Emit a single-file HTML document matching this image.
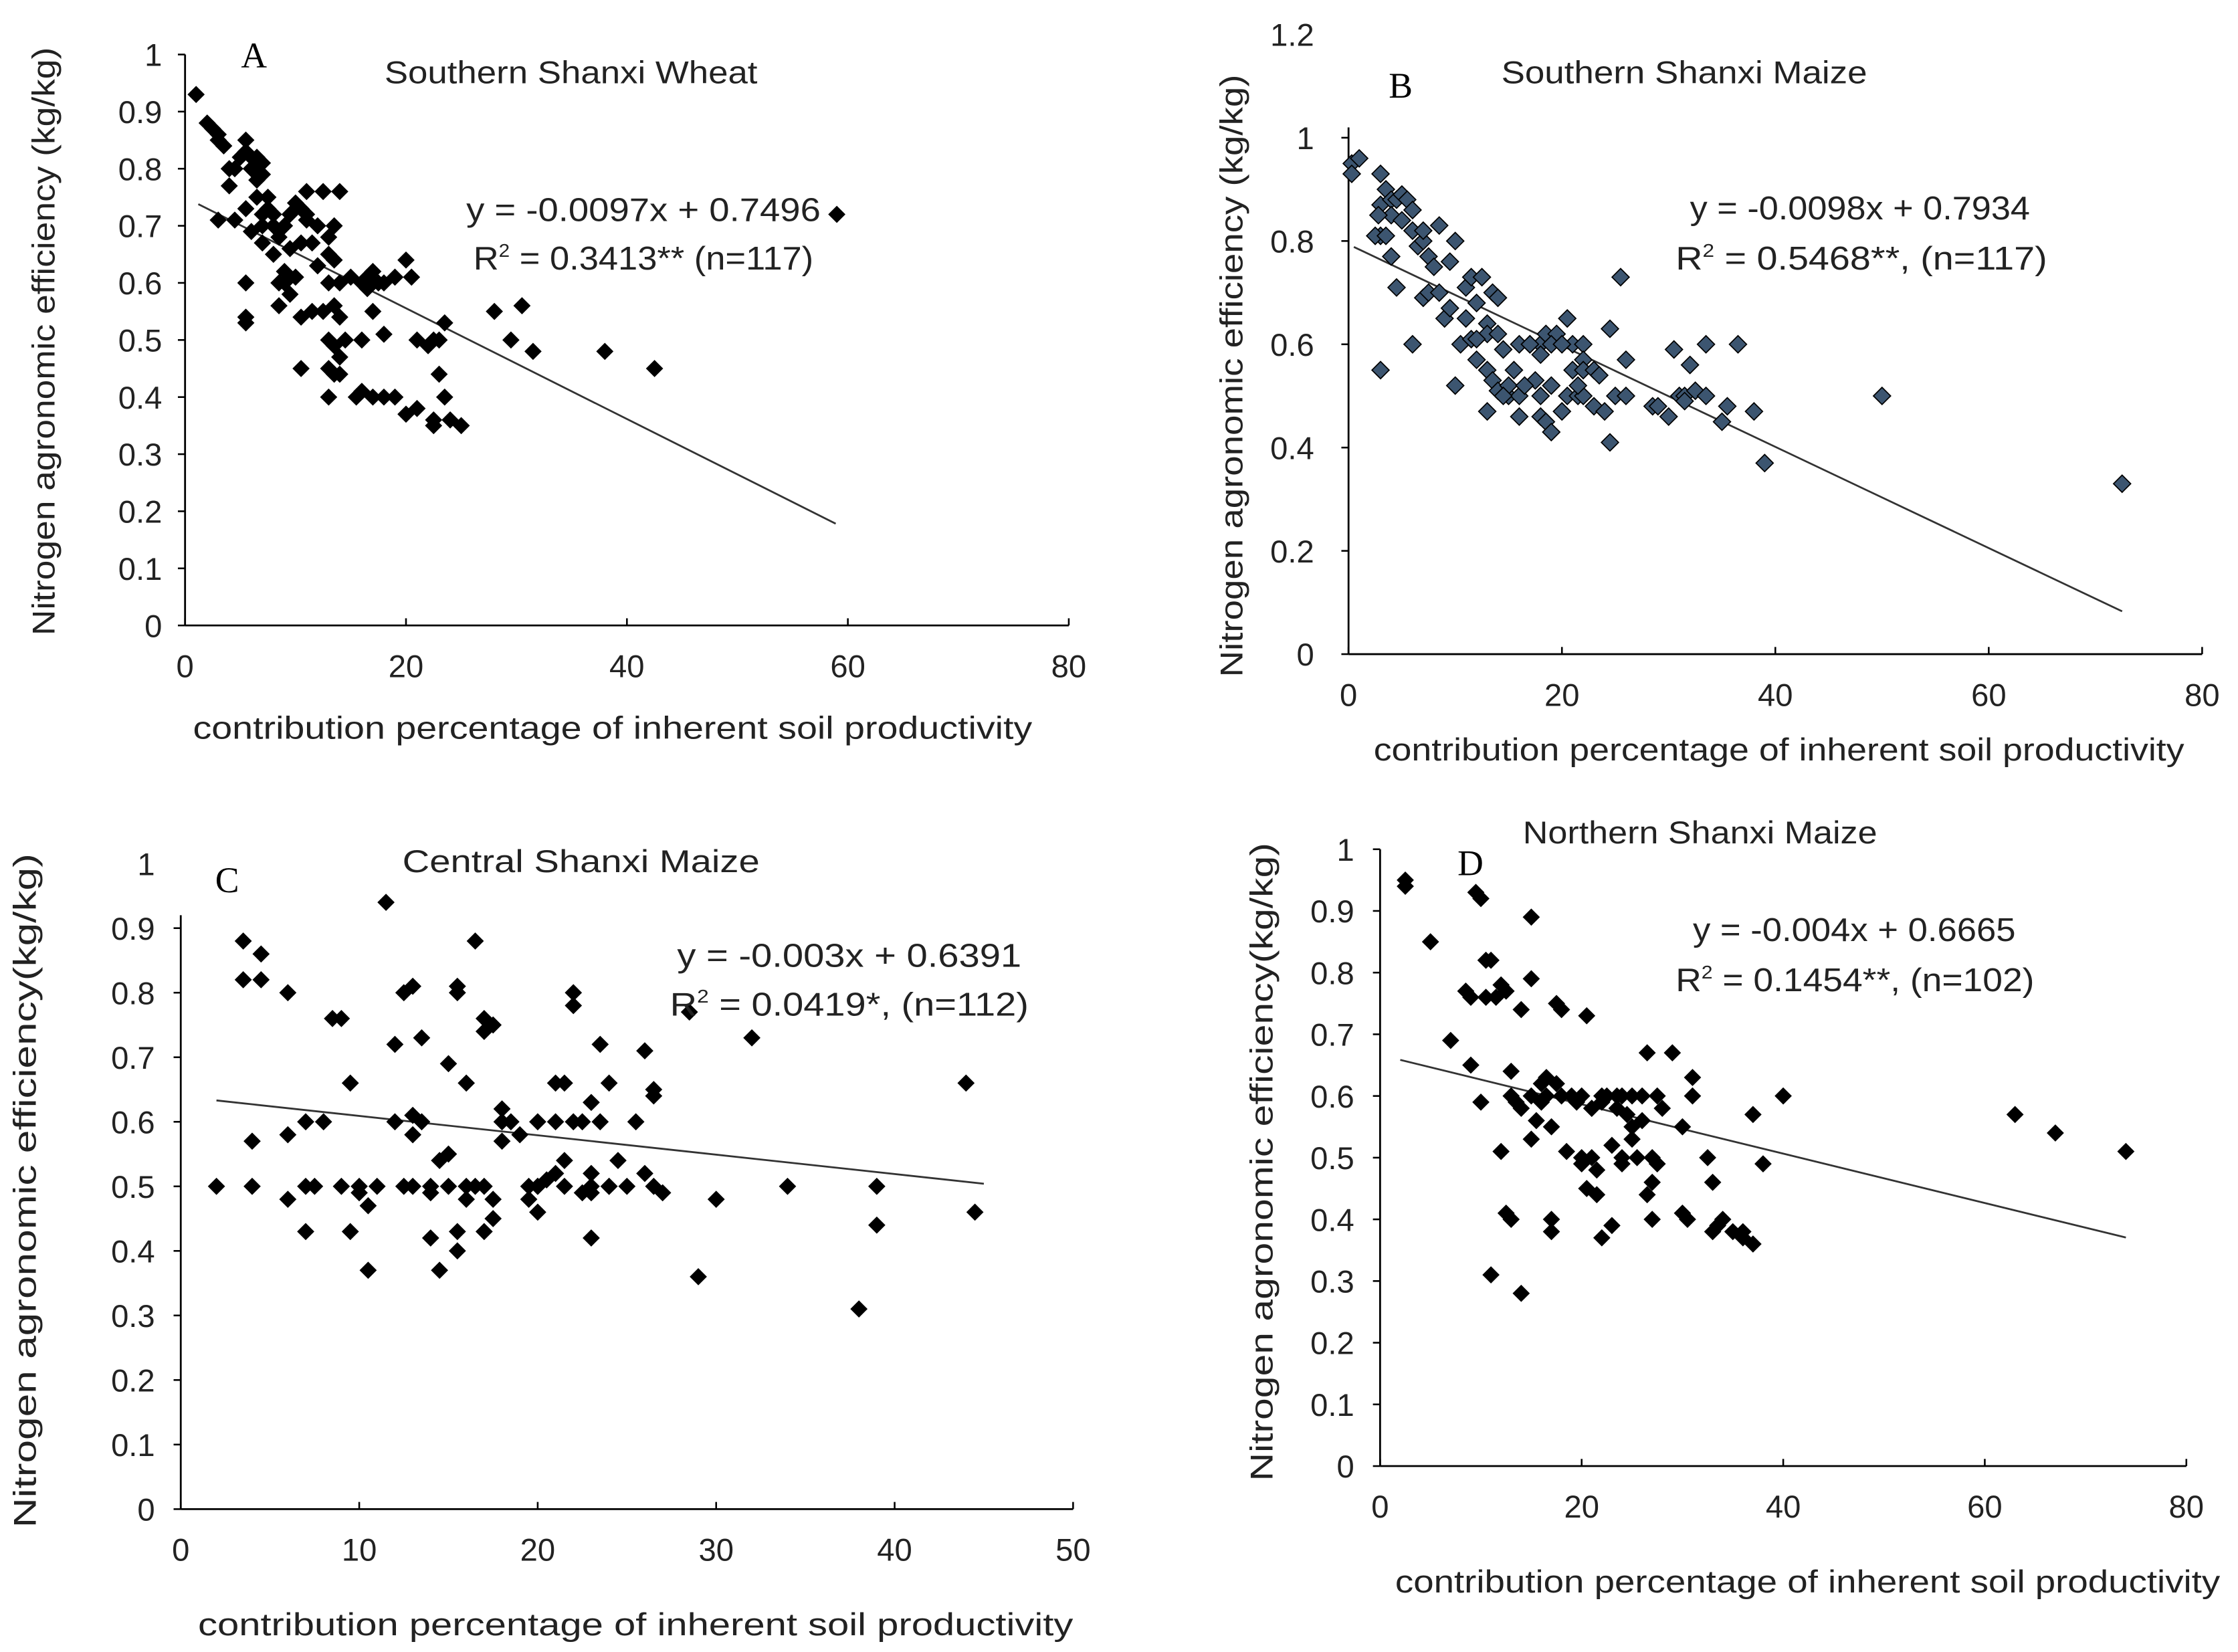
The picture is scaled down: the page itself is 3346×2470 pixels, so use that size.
<!DOCTYPE html>
<html><head><meta charset="utf-8">
<style>
html,body{margin:0;padding:0;background:#fff;}
svg{display:block;}
text{font-family:"Liberation Sans","DejaVu Sans",sans-serif;fill:#222;}
.serif{font-family:"Liberation Serif",serif;fill:#000;}
</style></head>
<body>
<svg id="fig" width="3346" height="2470" viewBox="0 0 1560 1151.6" preserveAspectRatio="none" xmlns="http://www.w3.org/2000/svg"></svg>
<script>
// ---- Panel A data ----
const aX = [1,2,2.5,3,3,3.5,4,4.5,4,3,4.5,5,5.5,5.5,6,6,6.5,6.5,7,7,5.5,6,6.5,7,7,7.5,7.5,8,8,8.5,9,9.5,10,10.5,11,11,10.5,11.5,12,12.5,13,13,13.5,14,13.5,5.5,5.5,5.5,8.5,9,9,9.5,10,8.5,10.5,11.5,10.5,13,14,13.5,14,13,13.5,14,14.5,13,13.5,14,13,16,16.5,17,18,19,20,20.5,17,18,16,15.5,16,17,18,19,21,20,21,22.5,23,23,23.5,23.5,22.5,22.5,24,25,28,29.5,30.5,31.5,38,42.5,59,15,12,9.5,8,11,12.5,7,6,16.5,22,17.5,4,12];
const aY = [0.93,0.88,0.87,0.86,0.85,0.84,0.8,0.8,0.77,0.71,0.71,0.82,0.83,0.85,0.82,0.8,0.82,0.78,0.81,0.79,0.73,0.69,0.75,0.67,0.72,0.73,0.75,0.72,0.7,0.68,0.7,0.72,0.74,0.73,0.76,0.71,0.67,0.67,0.7,0.76,0.68,0.65,0.64,0.76,0.7,0.6,0.53,0.54,0.6,0.62,0.6,0.58,0.61,0.56,0.54,0.55,0.45,0.6,0.6,0.56,0.54,0.5,0.49,0.47,0.5,0.45,0.44,0.44,0.4,0.6,0.59,0.62,0.6,0.61,0.64,0.61,0.55,0.51,0.5,0.4,0.41,0.4,0.4,0.4,0.5,0.37,0.38,0.5,0.5,0.44,0.53,0.4,0.36,0.35,0.36,0.35,0.55,0.5,0.56,0.48,0.48,0.45,0.72,0.61,0.63,0.66,0.65,0.72,0.55,0.7,0.8,0.61,0.49,0.6,0.8,0.63];
const aFit = [-0.0097, 0.7496, 1.2, 58.9];
const aXTicks = ["0","20","40","60","80"];
const aYTicks = ["0","0.1","0.2","0.3","0.4","0.5","0.6","0.7","0.8","0.9","1"];
// ---- Panel B data ----
const bX = [0.3,1,0.3,3,3,3.5,4,4,3,2.5,3.5,4,4.5,5,5.5,6,6,6.5,7,7.5,8,8.5,9.5,10,6,3,4.5,7,7.5,8.5,9,9.5,10.5,11,11,11.5,12,12.5,11.5,12,10,13,13,13.5,14,14,14.5,13,13.5,14,15,15,13,16,16,16,17,18,18.5,18,19.5,20.5,21,22,22,21,22,23,23.5,17.5,18,18,18.5,19,19,20,20.5,21.5,22,23,24,24.5,25,24.5,25.5,26,28.5,29,30,30.5,31,31.5,32,32.5,31.5,33.5,33.5,35,35.5,36.5,38,39,50,72.5,15.5,19,7,5,2.8,17,21.5,26,14.5,16.5,20,12];
const bY = [0.95,0.96,0.93,0.93,0.87,0.9,0.88,0.85,0.81,0.81,0.81,0.77,0.88,0.89,0.88,0.86,0.82,0.79,0.8,0.77,0.75,0.83,0.76,0.8,0.6,0.55,0.71,0.69,0.7,0.7,0.65,0.67,0.6,0.71,0.65,0.73,0.68,0.73,0.61,0.57,0.52,0.64,0.62,0.7,0.69,0.62,0.59,0.55,0.53,0.51,0.5,0.52,0.47,0.46,0.5,0.6,0.6,0.6,0.62,0.58,0.62,0.65,0.6,0.6,0.57,0.55,0.55,0.55,0.54,0.53,0.5,0.46,0.45,0.43,0.52,0.47,0.5,0.5,0.5,0.48,0.47,0.41,0.5,0.63,0.73,0.57,0.48,0.48,0.46,0.59,0.5,0.5,0.56,0.51,0.49,0.6,0.5,0.45,0.48,0.6,0.47,0.37,0.5,0.33,0.55,0.6,0.82,0.84,0.85,0.6,0.52,0.5,0.5,0.52,0.6,0.61];
const bFit = [-0.0098, 0.7934, 0.5, 72.5];
const bXTicks = ["0","20","40","60","80"];
const bYTicks = ["0","0.2","0.4","0.6","0.8","1","1.2"];
// ---- Panel C data ----
const cX = [2,3.5,3.5,4.5,4.5,4,4,6,6,6,7,7,7,7.5,8,8.5,9,9,9.5,9.5,10,10.5,10.5,11,11.5,12,12,12.5,13,13,13,13,13.5,14,14,14,14.5,14.5,15,15,15.5,15.5,15.5,15.5,16,16,16.5,16.5,17,17,17,17,17.5,17.5,17.5,18,18,18.5,19,19.5,19.5,20,20,20,20.5,21,21,21.5,21.5,21.5,22,22,22,22.5,23,23,23,23,23,23.5,23.5,24,24,24.5,25,25.5,26,26,26.5,26.5,27,28.5,29,30,32,34,38,39,39,44,44.5,24,22.5,26.5,18,15,12.5,20,16,10,21,13.5];
const cY = [0.5,0.88,0.82,0.86,0.82,0.57,0.5,0.8,0.58,0.48,0.6,0.43,0.5,0.5,0.6,0.76,0.76,0.5,0.43,0.66,0.49,0.47,0.37,0.5,0.94,0.72,0.6,0.8,0.81,0.61,0.58,0.5,0.73,0.5,0.49,0.42,0.54,0.37,0.69,0.5,0.81,0.8,0.4,0.43,0.66,0.5,0.5,0.88,0.76,0.74,0.5,0.43,0.75,0.48,0.45,0.57,0.62,0.6,0.58,0.5,0.48,0.5,0.46,0.6,0.51,0.6,0.66,0.66,0.5,0.54,0.6,0.8,0.78,0.6,0.52,0.49,0.5,0.63,0.42,0.72,0.6,0.66,0.5,0.54,0.5,0.6,0.71,0.52,0.64,0.5,0.49,0.77,0.36,0.48,0.73,0.5,0.31,0.5,0.44,0.66,0.46,0.5,0.49,0.65,0.6,0.55,0.5,0.5,0.48,0.5,0.52,0.6];
const cFit = [-0.003, 0.6391, 2, 45];
const cXTicks = ["0","10","20","30","40","50"];
const cYTicks = ["0","0.1","0.2","0.3","0.4","0.5","0.6","0.7","0.8","0.9","1"];
// ---- Panel D data ----
const dX = [2.5,2.5,5,7,8.5,9,9,9.5,10,10.5,11,10,10.5,11.5,12,12.5,11,12,12.5,13,13,13,13.5,14,14,14,15,15,15,15,15.5,16,16.5,16.5,17,17,17,17.5,17.5,18,18.5,19,19.5,20,20,20.5,20.5,21,21,21.5,21.5,22,22,22.5,23,23,23.5,24,24,24.5,25,25,25,25.5,26,26.5,26.5,27,27,27,27.5,27.5,29,30,30,30.5,31,31,32.5,33,33,33.5,34,35,36,36,37,37,38,40,63,67,74,21,22,23.5,26,18,24,20,16,28];
const dY = [0.95,0.94,0.85,0.69,0.77,0.76,0.65,0.93,0.92,0.82,0.82,0.59,0.76,0.76,0.78,0.77,0.31,0.51,0.41,0.6,0.64,0.4,0.59,0.58,0.28,0.74,0.89,0.79,0.6,0.53,0.56,0.62,0.63,0.6,0.4,0.38,0.55,0.62,0.75,0.74,0.51,0.6,0.59,0.5,0.49,0.73,0.45,0.5,0.58,0.48,0.44,0.37,0.6,0.6,0.39,0.52,0.6,0.5,0.49,0.57,0.55,0.53,0.6,0.5,0.6,0.67,0.44,0.4,0.5,0.46,0.49,0.6,0.67,0.55,0.41,0.4,0.6,0.63,0.5,0.38,0.46,0.39,0.4,0.38,0.37,0.38,0.57,0.36,0.49,0.6,0.57,0.54,0.51,0.58,0.59,0.58,0.56,0.6,0.6,0.6,0.59,0.58];
const dFit = [-0.004, 0.6665, 2, 74];
const dXTicks = ["0","20","40","60","80"];
const dYTicks = ["0","0.1","0.2","0.3","0.4","0.5","0.6","0.7","0.8","0.9","1"];

const NS = "http://www.w3.org/2000/svg";
const svg = document.getElementById('fig');
function mk(tag, attrs, parent, txt){
  const e = document.createElementNS(NS, tag);
  for (const k in attrs) e.setAttribute(k, attrs[k]);
  if (txt !== undefined) e.textContent = txt;
  (parent || svg).appendChild(e);
  return e;
}

function panel(cfg){
  const g = mk('g', {});
  
  
  const xMaxV = parseFloat(cfg.xt[cfg.xt.length-1]);
  const yMaxV = parseFloat(cfg.yt[cfg.yt.length-1]);
  const sx = v => cfg.x0 + (v / xMaxV) * (cfg.x1 - cfg.x0);
  const sy = v => cfg.y0 - (v / yMaxV) * (cfg.y0 - cfg.y1);
  const ya = mk('line', {x1:cfg.x0, y1:cfg.y0, x2:cfg.x0, y2:sy(cfg.yTop), stroke:'#000', 'stroke-width':1.3}, g);
  
  
  const xa = mk('line', {x1:cfg.x0, y1:cfg.y0, x2:cfg.x1, y2:cfg.y0, stroke:'#000', 'stroke-width':1.3}, g);
  
  
  cfg.yt.forEach(t => {
    const v = parseFloat(t), y = sy(v);
    if (v <= cfg.yTop + 1e-9) mk('line', {x1:cfg.x0-5, y1:y, x2:cfg.x0, y2:y, stroke:'#000', 'stroke-width':1.2}, g);
    const tl = mk('text', {x:cfg.x0-cfg.yLabOff, y:y+8, 'text-anchor':'end', 'font-size':22}, g, t);
    
    
  });
  cfg.xt.forEach(t => {
    const v = parseFloat(t), x = sx(v);
    mk('line', {x1:x, y1:cfg.y0, x2:x, y2:cfg.y0-5, stroke:'#000', 'stroke-width':1.2}, g);
    const tl = mk('text', {x:x, y:cfg.y0+36, 'text-anchor':'middle', 'font-size':22}, g, t);
    
    
  });
  const f = cfg.fit;
  const tr = mk('line', {x1:sx(f[2]), y1:sy(f[0]*f[2]+f[1]), x2:sx(f[3]), y2:sy(f[0]*f[3]+f[1]), stroke:'#333', 'stroke-width':1.3}, g);
  
  
  const r = 6;
  cfg.xs.forEach((xv, i) => {
    const cx = sx(xv), cy = sy(cfg.ys[i]);
    const p = mk('polygon', {points:`${cx},${cy-r} ${cx+r},${cy} ${cx},${cy+r} ${cx-r},${cy}`, fill:cfg.fill, stroke:'#000', 'stroke-width':cfg.fill==='#000'?0:0.8}, g);
    
    
  });
  const tt = mk('text', {x:cfg.title[1], y:cfg.title[2], 'text-anchor':'middle', 'font-size':22, textLength:cfg.title[3], lengthAdjust:'spacingAndGlyphs'}, g, cfg.title[0]);
  
  
  const lt = mk('text', {x:cfg.letter[1], y:cfg.letter[2], 'font-size':25, class:'serif'}, g, cfg.letter[0]);
  
  
  const e1 = mk('text', {x:cfg.eq[0], y:cfg.eq[1], 'font-size':23, textLength:cfg.eq[6], lengthAdjust:'spacingAndGlyphs'}, g, cfg.eq[2]);
  
  
  const e2 = mk('text', {x:cfg.eq[3], y:cfg.eq[4], 'font-size':23, textLength:cfg.eq[7], lengthAdjust:'spacingAndGlyphs'}, g);
  
  
  e2.appendChild(document.createTextNode('R'));
  mk('tspan', {'font-size':13, dy:-9}, e2, '2');
  mk('tspan', {dy:9}, e2, cfg.eq[5]);
  const xt = mk('text', {x:cfg.xTitle[0], y:cfg.xTitle[1], 'text-anchor':'middle', 'font-size':22, textLength:cfg.xTitle[2], lengthAdjust:'spacingAndGlyphs'}, g, 'contribution  percentage of inherent soil productivity');
  
  
  const yt = mk('text', {x:0, y:0, 'text-anchor':'middle', 'font-size':22, textLength:cfg.yTitle[3], lengthAdjust:'spacingAndGlyphs', transform:`translate(${cfg.yTitle[0]},${cfg.yTitle[1]}) rotate(-90)`}, g, cfg.yTitle[2]);
  
  
}

panel({id:'a', x0:129, x1:745, y0:436, y1:38, yTop:1, yLabOff:16, xt:aXTicks, yt:aYTicks, xs:aX, ys:aY, fit:aFit, fill:'#000',
  title:['Southern Shanxi Wheat',398,58,260], letter:['A',168,47],
  eq:[325,154,'y = -0.0097x + 0.7496',330,188,' = 0.3413** (n=117)',247,237],
  xTitle:[427,515,585], yTitle:[38,238,'Nitrogen agronomic efficiency  (kg/kg)',410]});
panel({id:'b', x0:940, x1:1535, y0:456, y1:24, yTop:1.02, yLabOff:24, xt:bXTicks, yt:bYTicks, xs:bX, ys:bY, fit:bFit, fill:'#3c5570',
  title:['Southern Shanxi  Maize',1174,58,255], letter:['B',968,68],
  eq:[1178,153,'y = -0.0098x + 0.7934',1168,188,' = 0.5468**,    (n=117)',237,259],
  xTitle:[1240,530,565], yTitle:[866,262,'Nitrogen agronomic efficiency  (kg/kg)',420]});
panel({id:'c', x0:126, x1:748, y0:1052, y1:602, yTop:0.92, yLabOff:18, xt:cXTicks, yt:cYTicks, xs:cX, ys:cY, fit:cFit, fill:'#000',
  title:['Central Shanxi  Maize',405,608,249], letter:['C',150,622],
  eq:[472,674,'y = -0.003x + 0.6391',467,708,' = 0.0419*, (n=112)',240,250],
  xTitle:[443,1140,610], yTitle:[25,830,'Nitrogen agronomic efficiency(kg/kg)',470]});
panel({id:'d', x0:962, x1:1524, y0:1022, y1:592, yTop:1, yLabOff:18, xt:dXTicks, yt:dYTicks, xs:dX, ys:dY, fit:dFit, fill:'#000',
  title:['Northern Shanxi Maize',1185,588,247], letter:['D',1016,610],
  eq:[1180,656,'y = -0.004x + 0.6665',1168,691,' = 0.1454**,  (n=102)',225,250],
  xTitle:[1260,1110,575], yTitle:[887,810,'Nitrogen agronomic efficiency(kg/kg)',445]});
</script>
</body></html>
